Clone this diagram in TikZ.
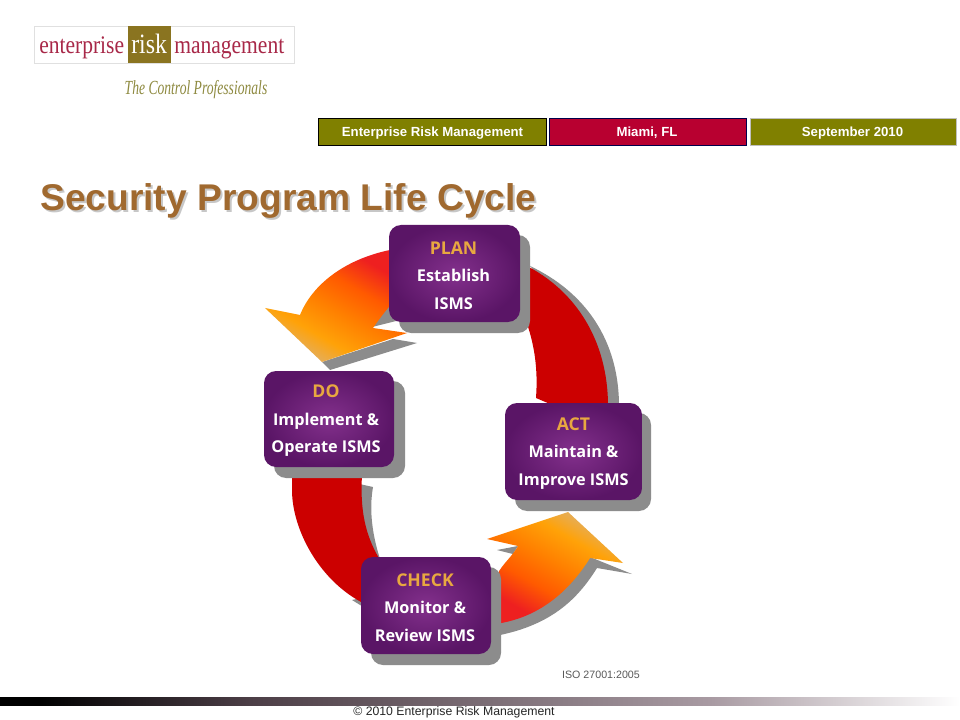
\documentclass[tikz,border=0pt]{standalone}
\usepackage{fontspec}
\setmainfont{Liberation Sans}
\newfontfamily\serifface{Liberation Serif}
\newfontfamily\boxface{Open Sans}
\usetikzlibrary{calc}
\definecolor{olivebar}{HTML}{808000}
\definecolor{crimsonbar}{HTML}{B80030}
\definecolor{titlebrown}{HTML}{A0692F}
\definecolor{shadowgrey}{HTML}{8C8C8C}
\definecolor{arcred}{HTML}{CC0000}
\definecolor{headgold}{HTML}{E8A840}
\definecolor{purpleout}{HTML}{5A1566}
\definecolor{purplein}{HTML}{83308C}
\definecolor{logored}{HTML}{A82848}
\definecolor{logoolive}{HTML}{8A7420}
\definecolor{tagolive}{HTML}{8E8A40}
\definecolor{flamepale}{HTML}{E8AC50}
\definecolor{flameamber}{HTML}{FFA208}
\definecolor{flameorange}{HTML}{FF8000}
\definecolor{flamedeep}{HTML}{FF5A00}
\definecolor{flamered}{HTML}{EE2020}
\definecolor{barmid}{HTML}{4C3E46}
\definecolor{barlight}{HTML}{A89AA2}
\pgfdeclareverticalshading{flame}{100bp}{
 color(0bp)=(flamepale); color(28bp)=(flamepale);
 color(36bp)=(flameamber); color(48bp)=(flameorange); color(60bp)=(flamedeep);
 color(72bp)=(flamered); color(100bp)=(flamered)}
\pgfdeclarehorizontalshading{barfade}{100bp}{
 color(0bp)=(black); color(27bp)=(black);
 color(38bp)=(barmid); color(62bp)=(barlight); color(75bp)=(white); color(100bp)=(white)}
\tikzset{
 x=0.75pt,y=-0.75pt,
 banner/.style={minimum height=20.25pt,inner sep=0pt,line width=0.8pt},
 bannertext/.style={inner sep=0pt,text=white,font=\bfseries\fontsize{9.9}{11}\selectfont},
 lifebox/.style={rounded corners=9pt,inner color=purplein,outer color=purpleout,inner sep=0pt},
 lifetext/.style={inner sep=0pt,align=center,text=white,font=\boxface\bfseries\fontsize{12.2}{20.6}\selectfont},
 boxshadow/.style={fill=shadowgrey,rounded corners=9pt},
 logoword/.style={inner sep=0pt,anchor=base west,font=\serifface\fontsize{19}{20}\selectfont},
}
\newcommand{\phase}[1]{\textcolor{headgold}{\fontsize{13.2}{20.6}\selectfont #1}}
\begin{document}
\begin{tikzpicture}
\useasboundingbox (0,0) rectangle (960,720);
\fill[white] (0,0) rectangle (960,720);
% logo
\node[draw=black!12,fill=white,minimum width=195pt,minimum height=27.75pt,inner sep=0pt] (logo) at (164,45) {};
\node[fill=logoolive,minimum width=32.25pt,minimum height=27.75pt,inner sep=0pt] (logobox) at (149.5,45) {};
\node[logoword,text=logored] (w1) at (39,54) {\scalebox{.85}[1]{enterprise}};
\node[logoword,text=white,font=\serifface\fontsize{21}{22}\selectfont] (w2) at (131,54) {\scalebox{.85}[1]{risk}};
\node[logoword,text=logored] (w3) at (174,54) {\scalebox{.85}[1]{management}};
\node[inner sep=0pt,text=tagolive,font=\serifface\itshape\fontsize{15}{17}\selectfont] (tag) at (196,89.5) {\scalebox{.68}[1]{The Control Professionals}};
% banners
\node[banner,draw=black,fill=olivebar,minimum width=171pt] (b1) at (432.5,132) {};
\node[banner,draw=black!70!blue,fill=crimsonbar,minimum width=147.75pt] (b2) at (648,132) {};
\node[banner,draw=black!25!white,fill=olivebar,minimum width=154.5pt] (b3) at (853.5,132) {};
\node[bannertext] (t1) at ($(b1.center)+(0,1)$) {Enterprise Risk Management};
\node[bannertext] (t2) at ($(b2.center)+(-1,1)$) {Miami, FL};
\node[bannertext] (t3) at ($(b3.center)+(-1,1)$) {September 2010};
% title
\node[inner sep=0pt,anchor=base west,text=black!22,font=\bfseries\fontsize{27.9}{30}\selectfont] (titleshade) at (42,212.5) {Security Program Life Cycle};
\node[inner sep=0pt,anchor=base west,text=titlebrown,font=\bfseries\fontsize{27.9}{30}\selectfont] (title) at (40,210.5) {Security Program Life Cycle};
% shadows of arrows
\fill[shadowgrey] (530,266) .. controls (585,292) and (619,340) .. (619,406) -- (600,406) -- (560,300) -- cycle;
\fill[shadowgrey] (355,483) -- (373,487) .. controls (369,510) and (372,535) .. (381,562) -- (365,570) -- cycle;
\fill[shadowgrey] (352,600) -- (365,608) -- (370,596) -- cycle;
\fill[shadowgrey] (372,327) -- (388,304) -- (396,321) -- cycle;
\fill[shadowgrey] (322,362) -- (330,370) -- (417,343) -- (393,339) -- cycle;
\fill[shadowgrey] (590,557) -- (632,574) -- (597,568) .. controls (580,595) and (555,625) .. (495,636) -- (495,620) -- cycle;
\fill[shadowgrey] (497,550) -- (518,546) -- (513,554) -- cycle;
% red arcs
\fill[arcred] (525,265) .. controls (575,290) and (608,340) .. (608,406) -- (550,404) -- (536,398) .. controls (538,370) and (535,345) .. (525,318) -- cycle;
\fill[arcred] (292,475) -- (292,490) .. controls (292,530) and (320,582) .. (365,604) -- (380,560) .. controls (365,535) and (360,510) .. (362,475) -- cycle;
% gradient arrows
\shade[shading=flame,shading angle=-30] (395,249) .. controls (345,258) and (312,285) .. (300,315) -- (265,308) -- (322,362) -- (407,333) -- (373,328) .. controls (380,318) and (386,310) .. (395,300) -- cycle;
\shade[shading=flame,shading angle=150] (495,624) .. controls (540,618) and (570,590) .. (590,558) -- (623,563) -- (568,512) -- (487,539) -- (518,546) .. controls (510,560) and (500,565) .. (495,580) -- cycle;
% boxes
\fill[boxshadow] (399,235) rectangle (530,333);
\fill[boxshadow] (274,381) rectangle (405,478);
\fill[boxshadow] (515,413) rectangle (651,511);
\fill[boxshadow] (371,567) rectangle (501,665);
\node[lifebox,minimum width=98.25pt,minimum height=72.75pt] (plan) at (454.5,273.5) {};
\node[lifebox,minimum width=97.5pt,minimum height=72pt] (do) at (329,419) {};
\node[lifebox,minimum width=102.75pt,minimum height=72.75pt] (act) at (573.5,451.5) {};
\node[lifebox,minimum width=97.5pt,minimum height=72.75pt] (check) at (426,605.5) {};
\node[lifetext] (plantext) at ($(plan.center)+(-1,2)$) {\phase{PLAN}\\Establish\\ISMS};
\node[lifetext] (dotext) at ($(do.center)+(-3,2)$) {\phase{DO}\\Implement \&\\Operate ISMS};
\node[lifetext] (acttext) at ($(act.center)+(0,2)$) {\phase{ACT}\\Maintain \&\\Improve ISMS};
\node[lifetext] (checktext) at ($(check.center)+(-1,2)$) {\phase{CHECK}\\Monitor \&\\Review ISMS};
% captions and footer
\node[inner sep=0pt,text=black!65,font=\fontsize{8}{10}\selectfont] (iso) at (601,675) {ISO 27001:2005};
\shade[shading=barfade] (0,697) rectangle (960,705);
\node[inner sep=0pt,text=black!85,font=\fontsize{9.2}{11}\selectfont] (foot) at (454,712) {© 2010 Enterprise Risk Management};
\end{tikzpicture}
\end{document}
